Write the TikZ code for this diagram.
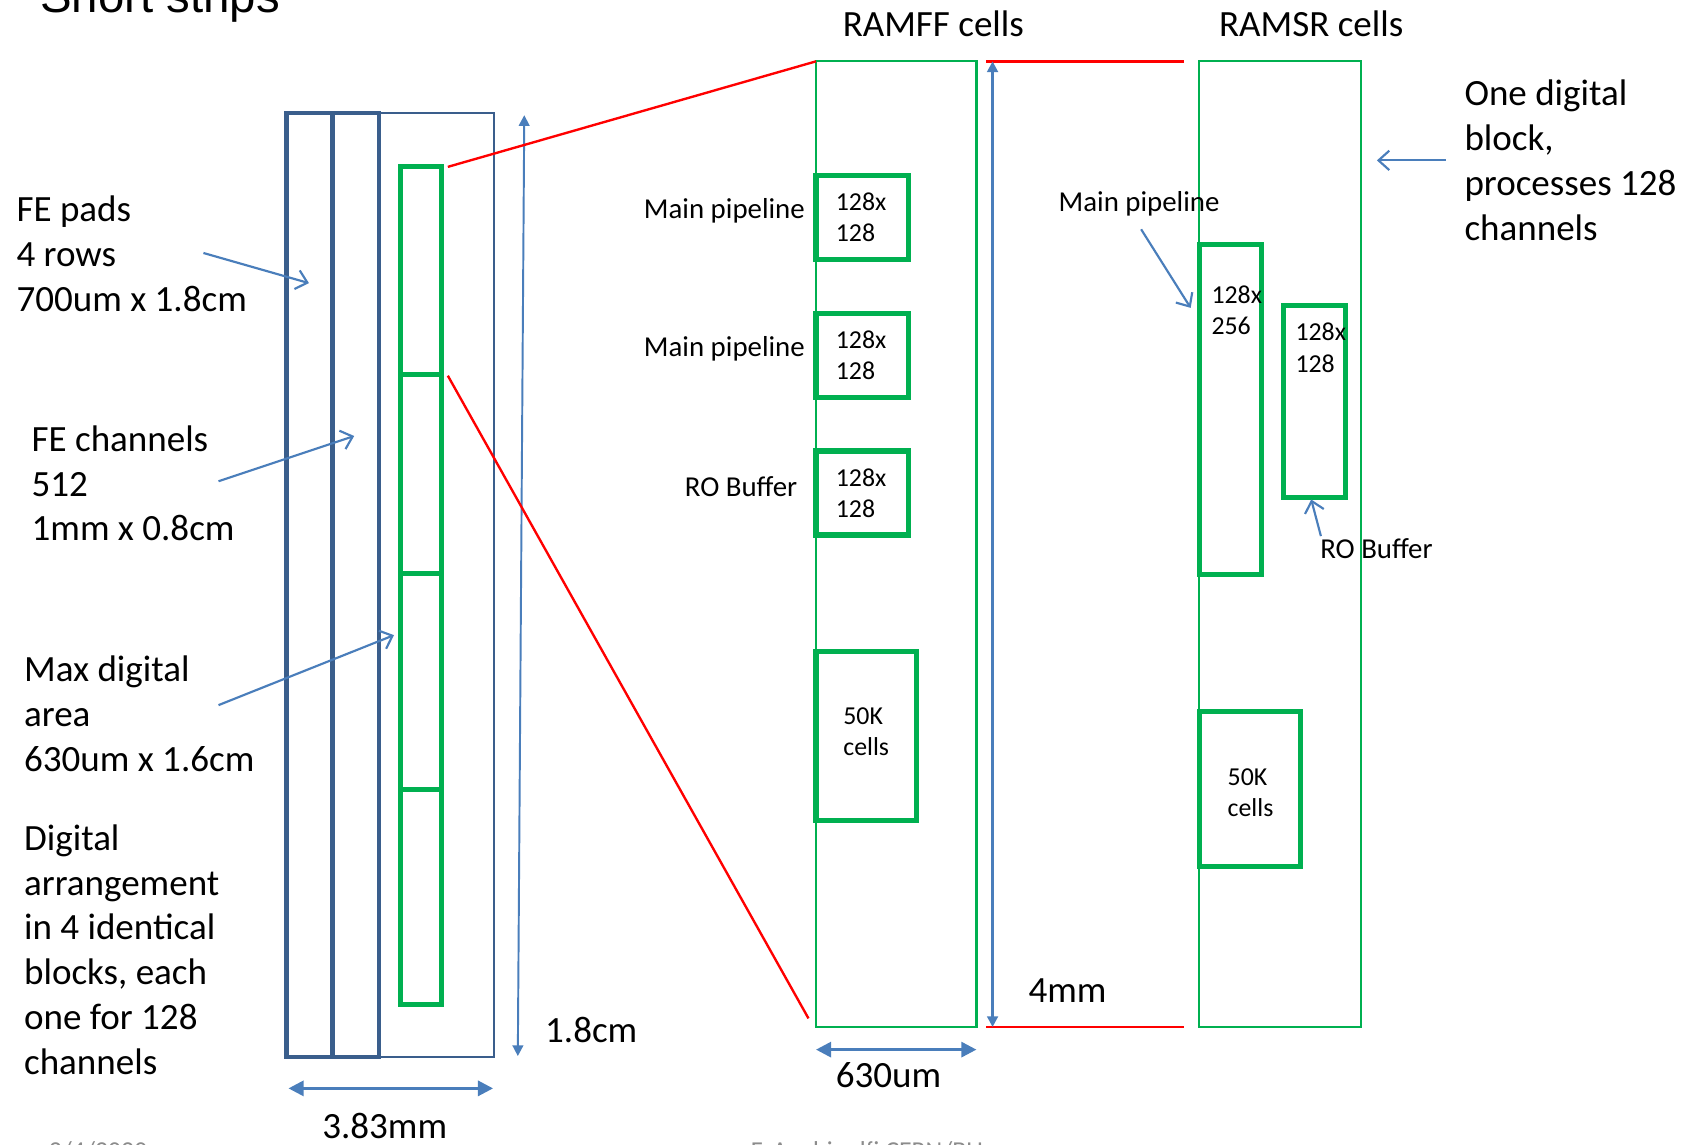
\documentclass[tikz,border=0pt]{standalone}
\usepackage{fontspec}
\setmainfont{Carlito}
\newfontfamily\arialfont{Liberation Sans}
\usetikzlibrary{arrows.meta,fit}

\definecolor{dkblue}{HTML}{3A5E8C}
\definecolor{arrblue}{HTML}{4A7EBB}
\definecolor{grn}{HTML}{00B050}
\definecolor{redl}{HTML}{FF0000}
\definecolor{footgray}{HTML}{8C8C8C}

\begin{document}
\begin{tikzpicture}[x=0.5pt,y=-0.5pt,
  big/.style={font=\fontsize{17.2}{20.8}\selectfont, inner sep=0pt, align=left},
  mid/.style={font=\fontsize{13.4}{16}\selectfont, inner sep=0pt},
  small/.style={font=\fontsize{12}{14.5}\selectfont, inner sep=0pt, align=left},
  gthick/.style={draw=grn, line width=2.4pt, inner sep=0pt, outer sep=0pt},
  gthin/.style={draw=grn, line width=1pt, inner sep=0pt, outer sep=0pt},
  bthick/.style={draw=dkblue, line width=2pt, inner sep=0pt, outer sep=0pt},
  bthin/.style={draw=dkblue, line width=1pt, inner sep=0pt, outer sep=0pt},
  redline/.style={draw=redl, line width=1.1pt},
  pointer/.style={draw=arrblue, line width=1pt, -{Straight Barb[length=5pt,width=9pt]}},
  dimarrow/.style={draw=arrblue, line width=1.3pt, {Triangle[length=7pt,width=7pt]}-{Triangle[length=7pt,width=7pt]}},
  thindim/.style={draw=arrblue, line width=0.9pt, {Triangle[length=5pt,width=5pt]}-{Triangle[length=5pt,width=5pt]}},
]
\useasboundingbox (0,0) rectangle (1568,1063);
\clip (0,0) rectangle (1568,1063);

% title and footer (cut by the page edges)
\node[anchor=base west, font=\arialfont\fontsize{22}{26}\selectfont, inner sep=0pt] (title) at (37,12) {Short strips};
\node[anchor=base west, font=\fontsize{12}{14}\selectfont, text=footgray, inner sep=0pt] (date) at (45,1077) {2/4/2020};
\node[anchor=base west, font=\fontsize{12}{14}\selectfont, text=footgray, inner sep=0pt] (author) at (697,1077) {F. Anghinolfi CERN/BU};

% left: chip outline
\node[bthin, fit={(352,105)(459,982)}] (chipR) {};
\node[bthick, fit={(266,105)(309,982)}] (pads1) {};
\node[bthick, fit={(309,105)(352,982)}] (pads2) {};

% four digital blocks
\node[gthick, fit={(372,155)(410,348)}] (blk1) {};
\node[gthick, fit={(372,348)(410,533)}] (blk2) {};
\node[gthick, fit={(372,533)(410,733)}] (blk3) {};
\node[gthick, fit={(372,733)(410,933)}] (blk4) {};

% left labels
\node[big, anchor=west] (fepads) at (15,236) {FE pads\\4 rows\\700um x 1.8cm};
\node[big, anchor=west] (fech) at (29,449) {FE channels\\512\\1mm x 0.8cm};
\node[big, anchor=west] (maxd) at (22,663) {Max digital\\area\\630um x 1.6cm};
\node[big, anchor=west] (arr) at (22,882) {Digital\\arrangement\\in 4 identical\\blocks, each\\one for 128\\channels};

\coordinate (p1s) at (189,235); \coordinate (p1e) at (287,263);
\coordinate (p2s) at (203,447); \coordinate (p2e) at (329,405);
\coordinate (p3s) at (203,655); \coordinate (p3e) at (366,590);
\draw[pointer] (p1s) -- (p1e);
\draw[pointer] (p2s) -- (p2e);
\draw[pointer] (p3s) -- (p3e);

% left dimensions
\coordinate (h1) at (487,107); \coordinate (h2) at (481,981);
\draw[thindim] (h1) -- (h2);
\node[big, anchor=west] (d18) at (506,957) {1.8cm};
\coordinate (w1) at (268,1011); \coordinate (w2) at (458,1011);
\draw[dimarrow] (w1) -- (w2);
\node[big, anchor=base west] (d383) at (299,1058) {3.83mm};

% RAMFF column
\node[big, anchor=center] (tff) at (867,22) {RAMFF cells};
\node[gthin, fit={(758,57)(907,954)}] (ramff) {};
\node[gthick, fit={(758,163)(844,241)}] (ff1) {};
\node[gthick, fit={(758,291)(844,369)}] (ff2) {};
\node[gthick, fit={(758,419)(844,497)}] (ff3) {};
\node[gthick, fit={(758,605)(851,762)}] (ff4) {};
\node[small, anchor=west] (ff1t) at (776,202) {128x\\128};
\node[small, anchor=west] (ff2t) at (776,330) {128x\\128};
\node[small, anchor=west] (ff3t) at (776,458) {128x\\128};
\node[small, anchor=west] (ff4t) at (783,680) {50K\\cells};
\node[mid, anchor=east] (mp1) at (748,196) {Main pipeline};
\node[mid, anchor=east] (mp2) at (748,324) {Main pipeline};
\node[mid, anchor=east] (rob1) at (741,452) {RO Buffer};

% zoom lines
\coordinate (z1) at (416,155); \coordinate (z2) at (416,349);
\coordinate (z3) at (751,946);
\draw[redline] (z1) -- (ramff.north west);
\draw[redline] (z2) -- (z3);
\coordinate (r1) at (916,57); \coordinate (r2) at (1100,57);
\coordinate (r3) at (916,954); \coordinate (r4) at (1100,954);
\draw[redline] (r1) -- (r2);
\draw[redline] (r3) -- (r4);

% RAMFF dimensions
\coordinate (v1) at (922,57); \coordinate (v2) at (922,954);
\draw[thindim, line width=1.2pt] (v1) -- (v2);
\node[big, anchor=west] (d4) at (955,920) {4mm};
\coordinate (u1) at (758,975); \coordinate (u2) at (907,975);
\draw[dimarrow] (u1) -- (u2);
\node[big, anchor=west] (d630) at (776,999) {630um};

% RAMSR column
\node[big, anchor=center] (tsr) at (1218,22) {RAMSR cells};
\node[gthin, fit={(1114,57)(1264,954)}] (ramsr) {};
\node[gthick, fit={(1114,227)(1172,534)}] (srA) {};
\node[gthick, fit={(1192,284)(1250,462)}] (srB) {};
\node[gthick, fit={(1114,661)(1208,805)}] (srC) {};
\node[small, anchor=west] (srAt) at (1125,288) {128x\\256};
\node[small, anchor=west] (srBt) at (1203,323) {128x\\128};
\node[small, anchor=west] (srCt) at (1140,736) {50K\\cells};
\node[mid, anchor=west] (mp3) at (983,189) {Main pipeline};
\node[mid, anchor=west] (rob2) at (1226,510) {RO Buffer};
\node[big, anchor=west] (one) at (1360,149) {One digital\\block,\\processes 128\\channels};

\coordinate (q1s) at (1060,213); \coordinate (q1e) at (1106,286);
\coordinate (q2s) at (1227,498); \coordinate (q2e) at (1218,464);
\coordinate (q3s) at (1343,149); \coordinate (q3e) at (1279,149);
\draw[pointer] (q1s) -- (q1e);
\draw[pointer] (q2s) -- (q2e);
\draw[pointer] (q3s) -- (q3e);
\end{tikzpicture}
\end{document}
